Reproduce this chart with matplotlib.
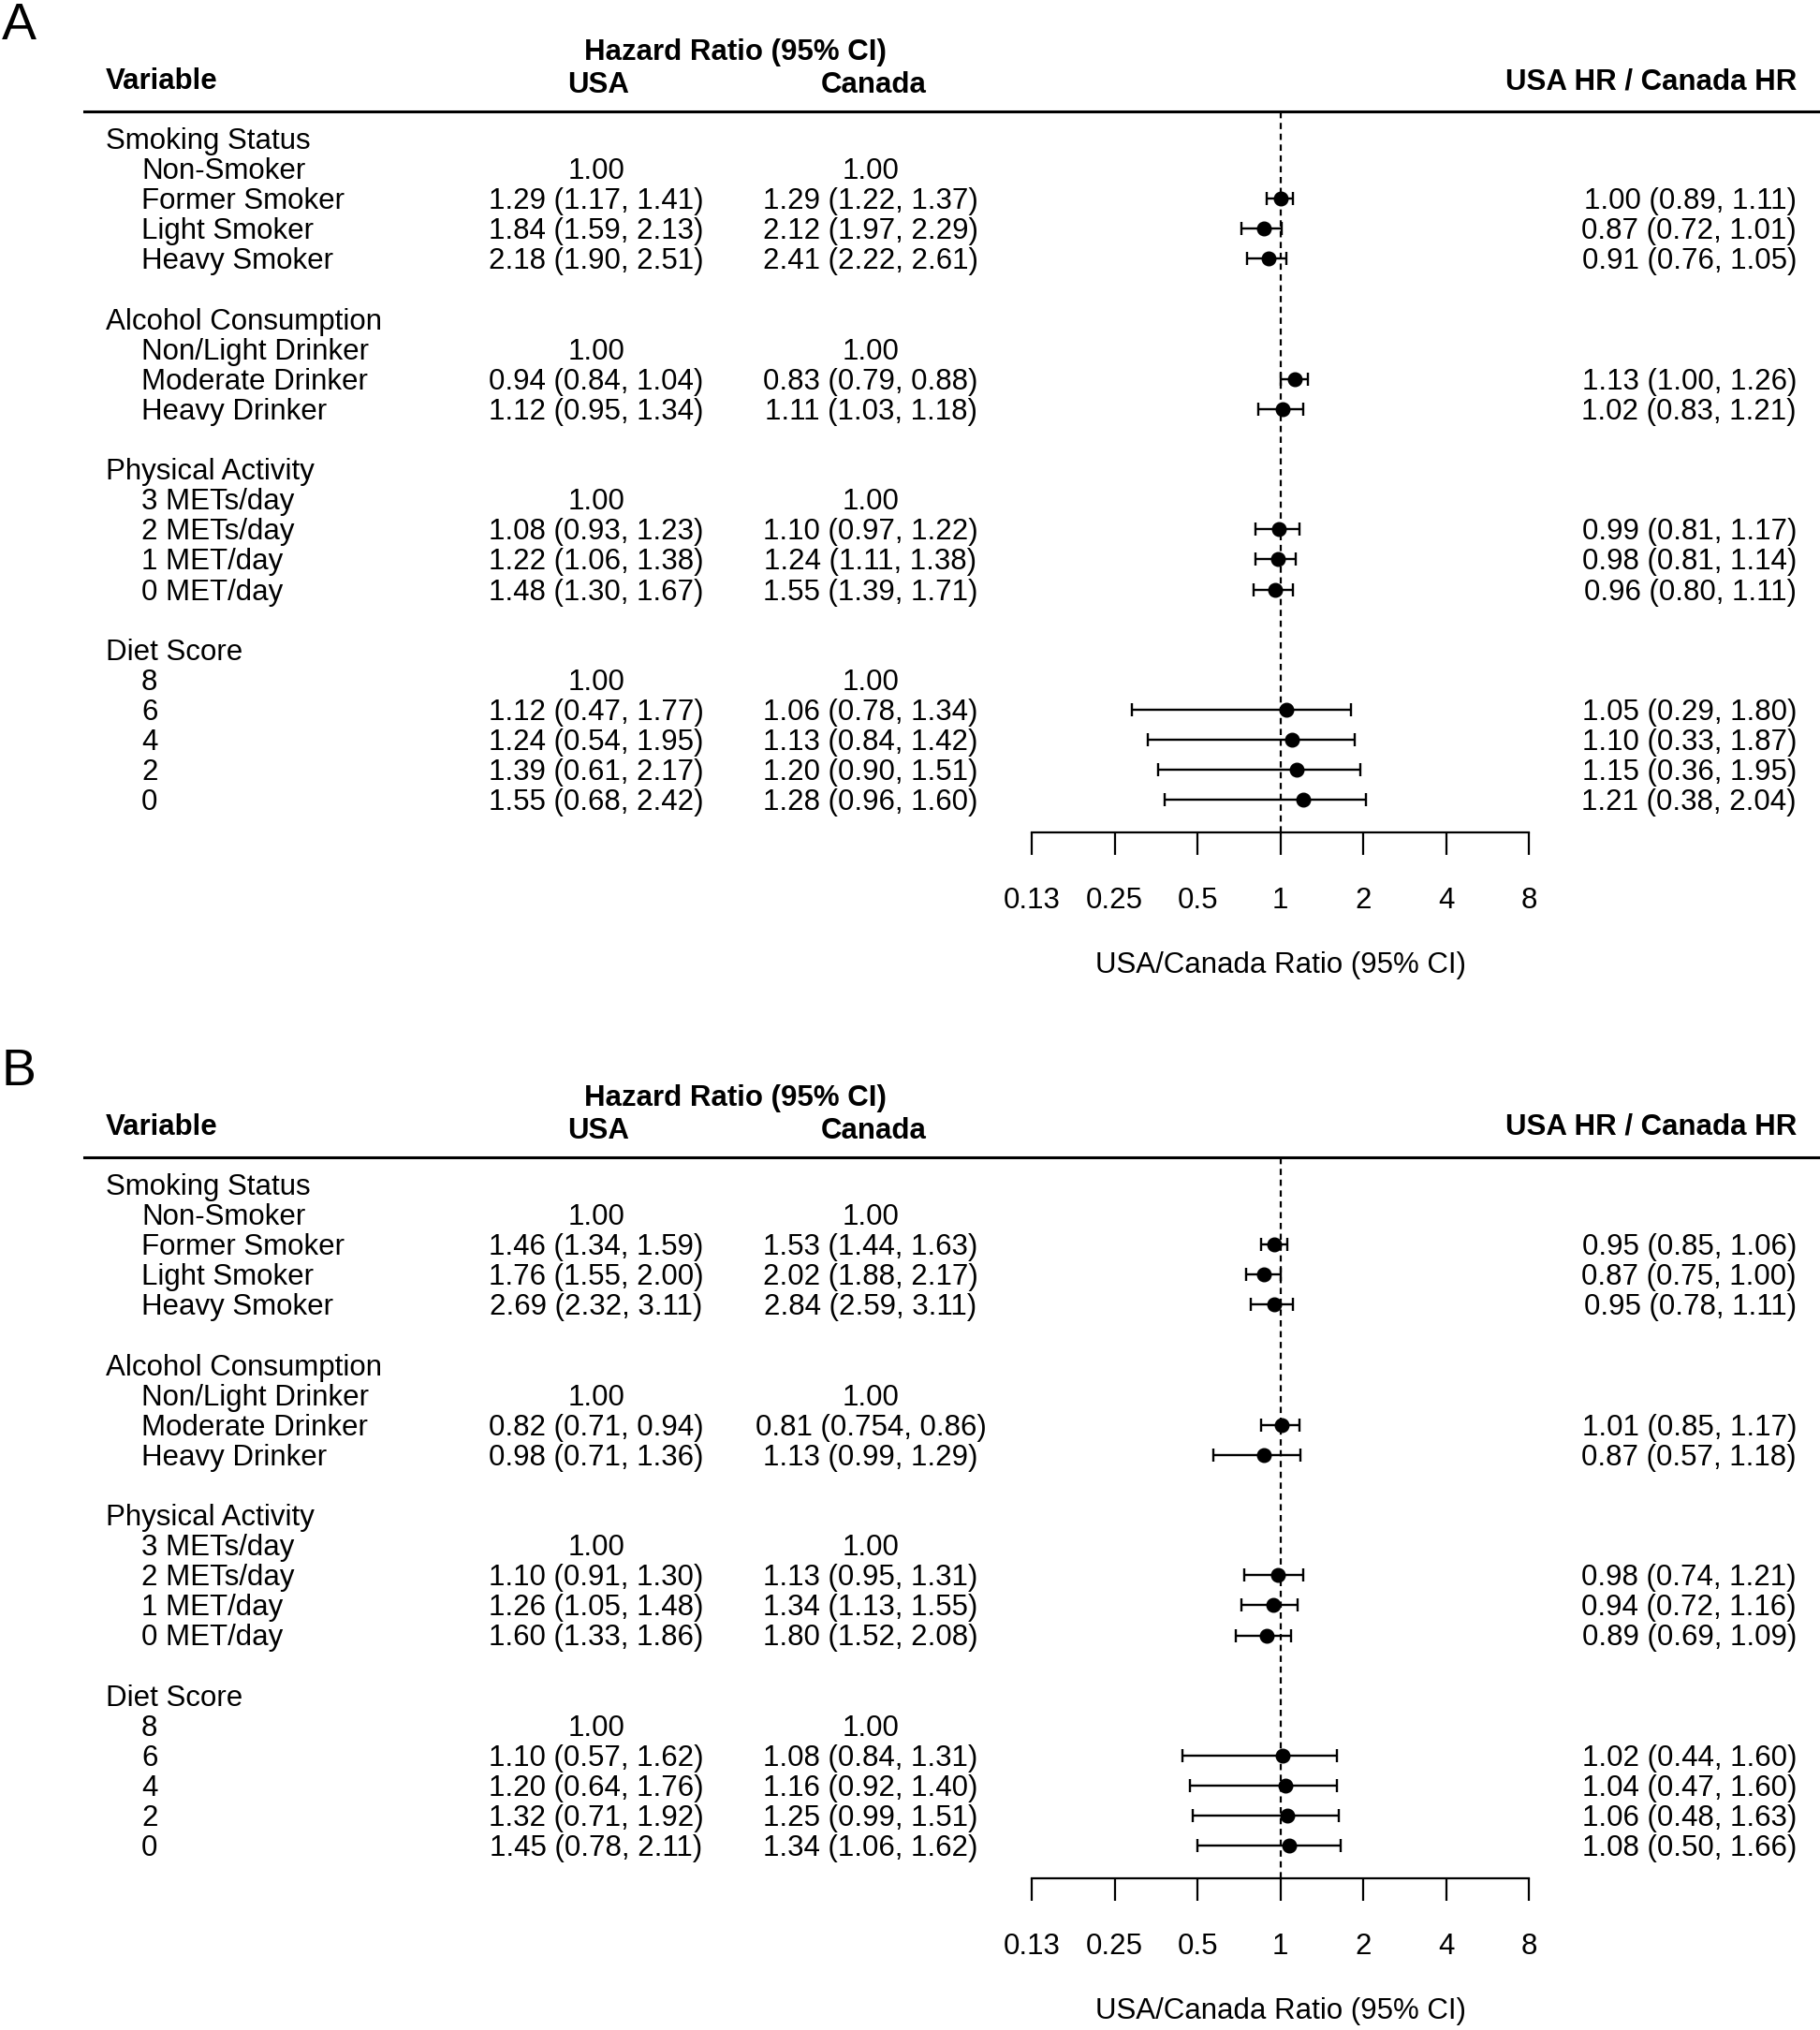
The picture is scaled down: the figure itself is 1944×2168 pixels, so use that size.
import matplotlib.pyplot as plt
import numpy as np
from matplotlib.lines import Line2D

plt.rcParams['font.family'] = ['Liberation Sans', 'DejaVu Sans']

# ---- data ----
groups = ["Smoking Status", "Alcohol Consumption", "Physical Activity", "Diet Score"]
levels = [
    ["Non-Smoker", "Former Smoker", "Light Smoker", "Heavy Smoker"],
    ["Non/Light Drinker", "Moderate Drinker", "Heavy Drinker"],
    ["3 METs/day", "2 METs/day", "1 MET/day", "0 MET/day"],
    ["8", "6", "4", "2", "0"],
]

usa_a = ["1.00", "1.29 (1.17, 1.41)", "1.84 (1.59, 2.13)", "2.18 (1.90, 2.51)",
         "1.00", "0.94 (0.84, 1.04)", "1.12 (0.95, 1.34)",
         "1.00", "1.08 (0.93, 1.23)", "1.22 (1.06, 1.38)", "1.48 (1.30, 1.67)",
         "1.00", "1.12 (0.47, 1.77)", "1.24 (0.54, 1.95)", "1.39 (0.61, 2.17)", "1.55 (0.68, 2.42)"]
can_a = ["1.00", "1.29 (1.22, 1.37)", "2.12 (1.97, 2.29)", "2.41 (2.22, 2.61)",
         "1.00", "0.83 (0.79, 0.88)", "1.11 (1.03, 1.18)",
         "1.00", "1.10 (0.97, 1.22)", "1.24 (1.11, 1.38)", "1.55 (1.39, 1.71)",
         "1.00", "1.06 (0.78, 1.34)", "1.13 (0.84, 1.42)", "1.20 (0.90, 1.51)", "1.28 (0.96, 1.60)"]
est_a = [np.nan, 1.00, 0.87, 0.91, np.nan, 1.13, 1.02, np.nan, 0.99, 0.98, 0.96, np.nan, 1.05, 1.10, 1.15, 1.21]
lo_a = [np.nan, 0.89, 0.72, 0.76, np.nan, 1.00, 0.83, np.nan, 0.81, 0.81, 0.80, np.nan, 0.29, 0.33, 0.36, 0.38]
hi_a = [np.nan, 1.11, 1.01, 1.05, np.nan, 1.26, 1.21, np.nan, 1.17, 1.14, 1.11, np.nan, 1.80, 1.87, 1.95, 2.04]

usa_b = ["1.00", "1.46 (1.34, 1.59)", "1.76 (1.55, 2.00)", "2.69 (2.32, 3.11)",
         "1.00", "0.82 (0.71, 0.94)", "0.98 (0.71, 1.36)",
         "1.00", "1.10 (0.91, 1.30)", "1.26 (1.05, 1.48)", "1.60 (1.33, 1.86)",
         "1.00", "1.10 (0.57, 1.62)", "1.20 (0.64, 1.76)", "1.32 (0.71, 1.92)", "1.45 (0.78, 2.11)"]
can_b = ["1.00", "1.53 (1.44, 1.63)", "2.02 (1.88, 2.17)", "2.84 (2.59, 3.11)",
         "1.00", "0.81 (0.754, 0.86)", "1.13 (0.99, 1.29)",
         "1.00", "1.13 (0.95, 1.31)", "1.34 (1.13, 1.55)", "1.80 (1.52, 2.08)",
         "1.00", "1.08 (0.84, 1.31)", "1.16 (0.92, 1.40)", "1.25 (0.99, 1.51)", "1.34 (1.06, 1.62)"]
est_b = [np.nan, 0.95, 0.87, 0.95, np.nan, 1.01, 0.87, np.nan, 0.98, 0.94, 0.89, np.nan, 1.02, 1.04, 1.06, 1.08]
lo_b = [np.nan, 0.85, 0.75, 0.78, np.nan, 0.85, 0.57, np.nan, 0.74, 0.72, 0.69, np.nan, 0.44, 0.47, 0.48, 0.50]
hi_b = [np.nan, 1.06, 1.00, 1.11, np.nan, 1.17, 1.18, np.nan, 1.21, 1.16, 1.09, np.nan, 1.60, 1.60, 1.63, 1.66]

ticks = [0.125, 0.25, 0.5, 1, 2, 4, 8]
tick_labels = ["0.13", "0.25", "0.5", "1", "2", "4", "8"]

# ---- layout (pixels) ----
W, H = 1944, 2168
FS = 22.5
ROW0, STEP = 148, 32.1
TXT_DY = 3
LINE_Y, AXIS_Y = 119, 889
fig = plt.figure(figsize=(W / 100, H / 100), dpi=100)


def fx(x):
    return x / W


def fy(y):
    return 1 - y / H


def panel(letter, off, usa, can, est, lo, hi):
    fig.text(fx(2), fy(28 + off), letter, fontsize=40, ha='left', va='center')
    fig.text(fx(785), fy(56 + off), "Hazard Ratio (95% CI)", fontsize=FS, weight='bold', ha='center', va='center')
    fig.text(fx(113), fy(87 + off), "Variable", fontsize=FS, weight='bold', ha='left', va='center')
    fig.text(fx(639), fy(91 + off), "USA", fontsize=FS, weight='bold', ha='center', va='center')
    fig.text(fx(933), fy(91 + off), "Canada", fontsize=FS, weight='bold', ha='center', va='center')
    fig.text(fx(1919), fy(87 + off), "USA HR / Canada HR", fontsize=FS, weight='bold', ha='right', va='center')
    fig.add_artist(Line2D([fx(90), fx(1944)], [fy(LINE_Y + off)] * 2, color='black', lw=2.2))

    # rows
    r = 0
    k = 0
    ypos = []
    for g, levs in zip(groups, levels):
        fig.text(fx(113), fy(ROW0 + r * STEP + off + TXT_DY), g, fontsize=FS, ha='left', va='center')
        r += 1
        for lev in levs:
            y = ROW0 + r * STEP + off + TXT_DY
            fig.text(fx(151), fy(y), lev, fontsize=FS, ha='left', va='center')
            fig.text(fx(637), fy(y), usa[k], fontsize=FS, ha='center', va='center')
            fig.text(fx(930), fy(y), can[k], fontsize=FS, ha='center', va='center')
            if not np.isnan(est[k]):
                fig.text(fx(1919), fy(y), "%.2f (%.2f, %.2f)" % (est[k], lo[k], hi[k]),
                         fontsize=FS, ha='right', va='center')
            ypos.append(r)
            k += 1
            r += 1
        r += 1

    # forest plot
    left, right = 1102, 1633
    ax = fig.add_axes([fx(left), fy(AXIS_Y + off), (right - left) / W, (AXIS_Y - LINE_Y) / H])
    ax.set_xscale('log', base=2)
    ax.set_xlim(0.125, 8)
    ax.set_ylim((AXIS_Y - ROW0) / STEP, -(ROW0 - LINE_Y) / STEP)
    ax.axvline(1, color='black', lw=1.6, linestyle=(0, (3, 2.2)), zorder=1)
    est = np.array(est)
    lo = np.array(lo)
    hi = np.array(hi)
    yp = np.array(ypos)
    m = ~np.isnan(est)
    ax.errorbar(est[m], yp[m], xerr=[est[m] - lo[m], hi[m] - est[m]], fmt='o', color='black',
                ms=10.5, elinewidth=1.7, capsize=5, capthick=1.7, zorder=3)
    for s in ['top', 'left', 'right']:
        ax.spines[s].set_visible(False)
    ax.spines['bottom'].set_linewidth(1.6)
    ax.set_yticks([])
    ax.set_xticks(ticks)
    ax.set_xticklabels(tick_labels)
    ax.minorticks_off()
    ax.tick_params(axis='x', direction='out', length=17, width=1.6, pad=25, labelsize=FS)
    ax.set_xlabel("USA/Canada Ratio (95% CI)", fontsize=FS, labelpad=28)
    ax.patch.set_alpha(0)


panel("A", 0, usa_a, can_a, est_a, lo_a, hi_a)
panel("B", 1117, usa_b, can_b, est_b, lo_b, hi_b)

fig.savefig("out.png", dpi=100)
